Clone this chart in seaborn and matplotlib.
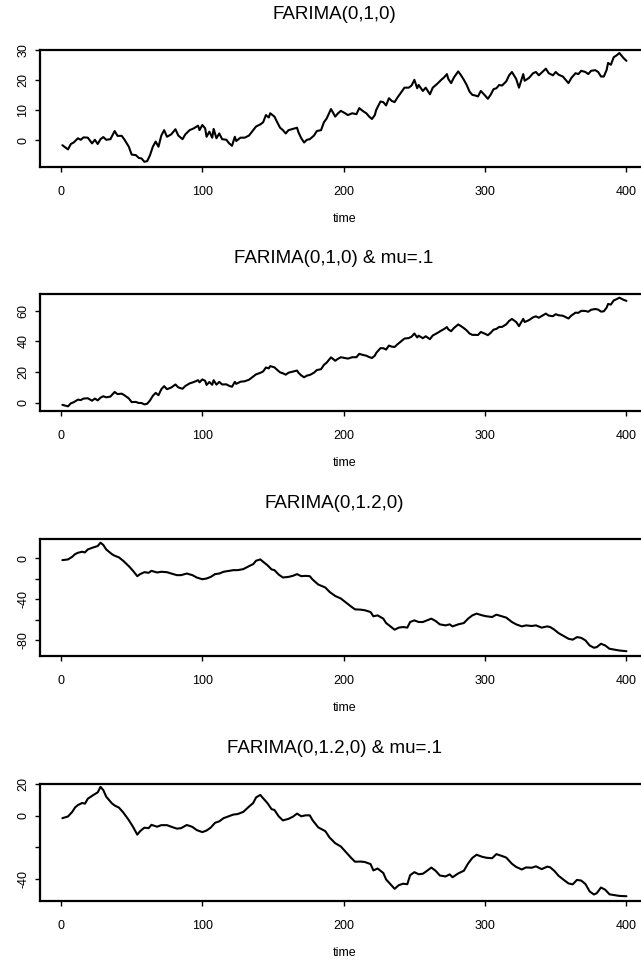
import matplotlib
matplotlib.use("Agg")
import matplotlib.pyplot as plt
import seaborn as sns
import pandas as pd

# ---------------- data ----------------
time_a = [1, 5, 7, 9, 12, 14, 16, 19, 22, 24, 26, 28, 30, 32, 35, 38, 40, 43, 45, 48,
          50, 53, 55, 57, 59, 61, 63, 65, 67, 69, 71, 73, 75, 78, 81, 83, 86, 88, 91, 94,
          97, 98, 100, 102, 103, 105, 107, 108, 110, 112, 114, 117, 119, 121, 123, 124, 127, 130, 133, 136,
          138, 141, 143, 145, 147, 148, 151, 153, 155, 157, 159, 161, 164, 167, 168, 170, 172, 174, 176, 179,
          181, 184, 186, 188, 191, 192, 194, 196, 198, 201, 203, 206, 209, 211, 214, 216, 218, 220, 222, 223,
          226, 228, 230, 232, 234, 236, 238, 241, 243, 246, 248, 250, 252, 253, 256, 258, 261, 263, 266, 269,
          271, 273, 274, 276, 278, 281, 283, 285, 287, 289, 291, 293, 295, 297, 300, 302, 304, 306, 308, 310,
          312, 315, 317, 319, 322, 324, 327, 328, 331, 334, 336, 338, 341, 343, 345, 348, 350, 352, 355, 357,
          359, 361, 364, 366, 368, 371, 373, 375, 378, 380, 382, 384, 386, 387, 389, 391, 393, 395, 397, 398,
          400]

farima_010 = [-1.6, -3.0, -1.2, -0.7, 0.7, 0.2, 1.0, 0.9, -1.0, 0.2, -1.2, 0.4, 1.1, 0.2, 0.4, 3.1, 1.5, 1.5, 0.2, -2.1,
              -4.7, -4.9, -5.8, -6.0, -7.1, -6.9, -4.9, -2.1, -0.4, -2.1, 1.6, 3.4, 1.2, 2.0, 3.7, 1.6, 0.4, 2.0, 3.4, 4.0,
              4.9, 3.4, 5.1, 4.0, 1.2, 2.9, 0.9, 3.8, 0.7, 2.3, 0.4, 0.2, -1.0, -1.8, 1.2, -0.2, 0.9, 0.9, 1.6, 3.4,
              4.6, 5.3, 6.0, 8.4, 7.6, 9.0, 7.9, 6.0, 4.2, 3.4, 2.3, 3.4, 3.8, 4.2, 2.7, 0.7, -0.7, 0.2, 0.4, 1.6,
              3.1, 3.4, 6.0, 7.3, 10.4, 9.6, 7.9, 9.0, 9.8, 9.0, 8.4, 9.0, 8.7, 10.7, 9.6, 9.0, 7.9, 7.1, 8.4, 10.1,
              12.9, 12.7, 11.6, 14.0, 13.1, 12.7, 14.2, 16.2, 17.5, 17.5, 18.2, 20.1, 17.3, 18.4, 16.4, 17.5, 15.3, 17.5, 18.7, 20.1,
              20.9, 22.0, 20.4, 19.0, 20.9, 22.9, 21.6, 20.1, 18.4, 16.2, 15.1, 14.9, 14.6, 16.4, 14.9, 13.8, 15.2, 17.0, 17.3, 18.4,
              18.2, 19.6, 21.6, 22.7, 20.4, 17.5, 22.0, 19.8, 20.7, 22.3, 22.7, 21.6, 22.9, 23.8, 22.3, 21.6, 22.7, 21.8, 21.2, 20.1,
              19.0, 20.7, 22.3, 22.0, 23.1, 22.7, 22.0, 23.1, 23.3, 22.7, 21.2, 21.2, 23.4, 25.7, 25.1, 27.6, 28.2, 29.0, 27.9, 27.3,
              26.4]

farima_010_mu = [-1.5, -2.5, -0.5, 0.2, 1.9, 1.6, 2.6, 2.8, 1.2, 2.6, 1.4, 3.2, 4.1, 3.4, 3.9, 6.9, 5.5, 5.8, 4.7, 2.7,
                 0.3, 0.4, -0.3, -0.3, -1.2, -0.8, 1.4, 4.4, 6.3, 4.8, 8.7, 10.7, 8.7, 9.8, 11.8, 9.9, 9.0, 10.8, 12.5, 13.4,
                 14.6, 13.2, 15.1, 14.2, 11.5, 13.4, 11.6, 14.6, 11.7, 13.5, 11.8, 11.9, 10.9, 10.3, 13.5, 12.2, 13.6, 13.9, 14.9, 17.0,
                 18.4, 19.4, 20.3, 22.9, 22.3, 23.8, 23.0, 21.3, 19.7, 19.1, 18.2, 19.5, 20.2, 20.9, 19.5, 17.7, 16.5, 17.6, 18.0, 19.5,
                 21.2, 21.8, 24.6, 26.1, 29.5, 28.8, 27.3, 28.6, 29.6, 29.1, 28.7, 29.6, 29.6, 31.8, 31.0, 30.6, 29.7, 29.1, 30.6, 32.4,
                 35.5, 35.5, 34.6, 37.2, 36.5, 36.3, 38.0, 40.3, 41.8, 42.1, 43.0, 45.1, 42.5, 43.7, 42.0, 43.3, 41.4, 43.8, 45.3, 47.0,
                 48.0, 49.3, 47.8, 46.6, 48.7, 51.0, 49.9, 48.6, 47.1, 45.1, 44.2, 44.2, 44.1, 46.1, 44.9, 44.0, 45.6, 47.6, 48.1, 49.4,
                 49.4, 51.1, 53.3, 54.6, 52.6, 49.9, 54.7, 52.6, 53.8, 55.7, 56.3, 55.4, 57.0, 58.1, 56.8, 56.4, 57.7, 57.0, 56.7, 55.8,
                 54.9, 56.8, 58.7, 58.6, 59.9, 59.8, 59.3, 60.6, 61.1, 60.7, 59.4, 59.6, 62.0, 64.4, 64.0, 66.7, 67.5, 68.5, 67.6, 67.1,
                 66.4]

time_b = [1, 5, 8, 10, 12, 15, 17, 19, 23, 26, 28, 30, 32, 36, 38, 41, 44, 48, 51, 54,
          56, 59, 62, 64, 68, 71, 75, 78, 82, 85, 89, 93, 96, 100, 103, 106, 109, 112, 115, 119,
          122, 125, 129, 133, 136, 138, 141, 143, 146, 149, 151, 154, 157, 161, 164, 167, 170, 173, 176, 178,
          182, 187, 190, 194, 198, 202, 205, 208, 212, 215, 219, 221, 224, 228, 230, 233, 236, 239, 242, 245,
          247, 250, 253, 256, 259, 262, 265, 268, 272, 275, 277, 281, 285, 288, 291, 294, 298, 301, 305, 308,
          312, 315, 319, 322, 326, 329, 333, 336, 340, 344, 346, 349, 352, 356, 359, 362, 365, 368, 371, 374,
          377, 379, 382, 385, 388, 392, 395, 400]

farima_0120 = [-1.7, -1.0, 1.6, 4.2, 5.5, 6.5, 5.9, 8.8, 10.8, 12.1, 15.4, 13.1, 8.8, 4.2, 2.6, 1.0, -2.3, -7.6, -12.2, -17.4,
               -15.4, -13.5, -14.1, -12.2, -13.8, -13.1, -13.5, -14.8, -16.4, -16.4, -14.8, -16.4, -18.7, -20.4, -19.7, -18.1, -15.4, -14.8, -13.1, -12.2,
               -11.5, -11.5, -10.5, -7.6, -5.6, -2.3, -1.0, -3.3, -6.6, -10.8, -11.5, -15.8, -18.7, -18.1, -17.1, -15.4, -17.4, -17.1, -17.4, -20.7,
               -25.6, -28.5, -32.8, -36.8, -39.3, -43.7, -46.9, -49.9, -50.2, -50.8, -52.5, -56.7, -55.8, -59.0, -63.3, -66.6, -69.8, -67.8, -67.2, -67.8,
               -62.3, -60.7, -62.3, -62.3, -60.7, -59.0, -61.3, -64.6, -65.6, -64.6, -66.6, -64.6, -63.3, -59.0, -55.8, -54.1, -55.8, -56.7, -57.4, -55.1,
               -56.7, -58.0, -62.3, -64.6, -66.6, -65.6, -66.2, -65.6, -67.8, -66.6, -67.2, -69.8, -73.2, -76.4, -78.7, -79.6, -77.1, -77.8, -80.3, -85.3,
               -87.5, -86.9, -83.6, -85.3, -88.5, -89.5, -90.2, -90.9]

farima_0120_mu = [-1.6, -0.5, 2.4, 5.2, 6.7, 8.0, 7.6, 10.7, 13.1, 14.7, 18.2, 16.1, 12.0, 7.8, 6.4, 5.1, 2.1, -2.8, -7.1, -12.0,
                  -9.8, -7.6, -7.9, -5.8, -7.0, -6.0, -6.0, -7.0, -8.2, -7.9, -5.9, -7.1, -9.1, -10.4, -9.4, -7.5, -4.5, -3.6, -1.6, -0.3,
                  0.7, 1.0, 2.4, 5.7, 8.0, 11.5, 13.1, 11.0, 8.0, 4.1, 3.6, -0.4, -3.0, -2.0, -0.7, 1.3, -0.4, 0.2, 0.2, -2.9,
                  -7.4, -9.8, -13.8, -17.4, -19.5, -23.5, -26.4, -29.1, -29.0, -29.3, -30.6, -34.6, -33.4, -36.2, -40.3, -43.3, -46.2, -43.9, -43.0, -43.3,
                  -37.6, -35.7, -37.0, -36.7, -34.8, -32.8, -34.8, -37.8, -38.4, -37.1, -38.9, -36.5, -34.8, -30.2, -26.7, -24.7, -26.0, -26.6, -26.9, -24.3,
                  -25.5, -26.5, -30.4, -32.4, -34.0, -32.7, -32.9, -32.0, -33.8, -32.2, -32.6, -34.9, -38.0, -40.8, -42.8, -43.4, -40.6, -41.0, -43.2, -47.9,
                  -49.8, -49.0, -45.4, -46.8, -49.7, -50.3, -50.7, -50.9]

titles = ["FARIMA(0,1,0)", "FARIMA(0,1,0) & mu=.1", "FARIMA(0,1.2,0)", "FARIMA(0,1.2,0) & mu=.1"]
x_ticks = [0, 100, 200, 300, 400]
x_ticklabels = ["0", "100", "200", "300", "400"]
y_ticks = [[0, 10, 20, 30], [0, 20, 40, 60], [0, -20, -40, -60, -80], [20, 0, -20, -40]]
y_ticklabels = [["0", "10", "20", "30"], ["0", "20", "40", "60"],
                ["0", "", "-40", "", "-80"], ["20", "0", "", "-40"]]
y_limits = [(-8.67, 30.0), (-5.2, 70.9), (-95.1, 19.0), (-53.6, 20.0)]

series = [(time_a, farima_010), (time_a, farima_010_mu), (time_b, farima_0120), (time_b, farima_0120_mu)]

# ---------------- plotting ----------------
sns.set_style("ticks")
plt.rcParams["font.family"] = ["Liberation Sans", "DejaVu Sans"]
plt.rcParams["text.color"] = "black"
plt.rcParams["axes.labelcolor"] = "black"
plt.rcParams["xtick.color"] = "black"
plt.rcParams["ytick.color"] = "black"
plt.rcParams["xtick.labelcolor"] = "black"
plt.rcParams["ytick.labelcolor"] = "black"

W, H = 641, 961
fig = plt.figure(figsize=(W / 100, H / 100), dpi=100)

left_px, right_px = 39.8, 649.0
tops_px = [50, 294, 539, 784]
h_px = 116.5
title_x = (334 - left_px) / (right_px - left_px)

for i, (tt, vv) in enumerate(series):
    top = tops_px[i]
    ax = fig.add_axes([left_px / W, 1 - (top + h_px) / H, (right_px - left_px) / W, h_px / H])
    df = pd.DataFrame({"time": tt, "value": vv})
    sns.lineplot(data=df, x="time", y="value", ax=ax, color="black", linewidth=1.5,
                 estimator=None, sort=False)
    ax.set_xlim(-14.96, 415.96)
    ax.set_ylim(*y_limits[i])
    ax.set_xticks(x_ticks)
    ax.set_xticklabels(x_ticklabels, fontsize=9, color="black")
    ax.set_yticks(y_ticks[i])
    ax.set_yticklabels(y_ticklabels[i], fontsize=9, rotation=90, va="center", color="black")
    ax.tick_params(axis="x", length=3.6, width=1, pad=10.5, color="black")
    ax.tick_params(axis="y", length=3.6, width=1, pad=4, color="black")
    for s in ax.spines.values():
        s.set_linewidth(1.6)
        s.set_color("black")
    ax.set_ylabel("")
    ax.set_xlabel("time", fontsize=9, color="black")
    ax.xaxis.set_label_coords(0.5, -0.40)
    ax.set_title(titles[i], fontsize=13.5, pad=22, x=title_x, color="black")
    ax.set_facecolor("white")

fig.savefig("out.png", dpi=100, facecolor="white")
